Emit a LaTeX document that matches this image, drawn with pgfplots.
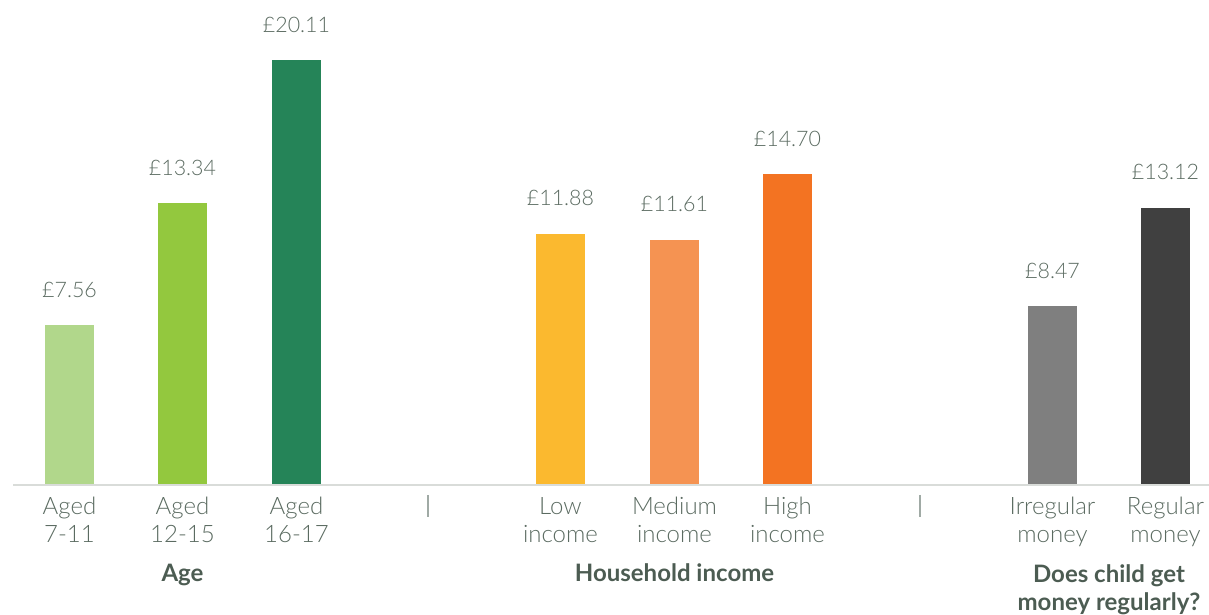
\documentclass[border=0pt]{standalone}
\usepackage{fontspec}
\setmainfont{Lato}[UprightFont=* Light, BoldFont=* Bold]
\usepackage{pgfplots}
\pgfplotsset{compat=1.18}
\definecolor{textgray}{RGB}{91,107,97}
\definecolor{boldgray}{RGB}{76,92,82}
\definecolor{axgray}{RGB}{217,220,217}
\definecolor{sepgray}{RGB}{160,170,165}
\definecolor{cA}{RGB}{177,215,139}
\definecolor{cB}{RGB}{147,200,62}
\definecolor{cC}{RGB}{37,132,88}
\definecolor{cD}{RGB}{251,185,47}
\definecolor{cE}{RGB}{245,147,82}
\definecolor{cF}{RGB}{243,115,34}
\definecolor{cG}{RGB}{127,127,127}
\definecolor{cH}{RGB}{64,64,64}
\begin{document}
\begin{tikzpicture}
\begin{axis}[
  width=604.5pt, height=307.5pt, scale only axis,
  xmin=0, xmax=1209, ymin=-6.152, ymax=22.953,
  axis x line=middle, axis y line=none,
  x axis line style={draw=none},
  ytick=\empty,
  xtick={69.5,182.5,296.5,560.5,674.5,787.5,1052.5,1165.5},
  xticklabels={{Aged\\7-11},{Aged\\12-15},{Aged\\16-17},{Low\\income},{Medium\\income},{High\\income},{Irregular\\money},{Regular\\money}},
  major tick length=0pt,
  xticklabel style={font=\fontsize{12}{14}\selectfont, text=textgray, align=center, anchor=north, inner sep=0pt, yshift=-6pt},
  clip=false,
  ybar, bar shift=0pt, bar width=49,
  nodes near coords={£\pgfmathprintnumber[fixed,fixed zerofill,precision=2,assume math mode=true]{\pgfplotspointmeta}},
  every node near coord/.append style={font=\fontsize{10.7}{13}\selectfont, text=textgray, anchor=base, yshift=14pt, inner sep=0pt},
]
\addplot[fill=cA, draw=none] coordinates {(69.5,7.56)};
\addplot[fill=cB, draw=none] coordinates {(182.5,13.34)};
\addplot[fill=cC, draw=none] coordinates {(296.5,20.11)};
\addplot[fill=cD, draw=none] coordinates {(560.5,11.88)};
\addplot[fill=cE, draw=none] coordinates {(674.5,11.61)};
\addplot[fill=cF, draw=none] coordinates {(787.5,14.70)};
\addplot[fill=cG, draw=none] coordinates {(1052.5,8.47)};
\addplot[fill=cH, draw=none] coordinates {(1165.5,13.12)};
\draw[axgray, line width=1pt] (axis cs:13,0) -- (axis cs:1209,0);
\draw[sepgray, line width=0.9pt] (axis cs:428,-0.473) -- (axis cs:428,-1.514);
\draw[sepgray, line width=0.9pt] (axis cs:920,-0.473) -- (axis cs:920,-1.514);
\node[anchor=base, font=\fontsize{12}{14}\selectfont\bfseries, text=boldgray] at (axis cs:182.5,-4.59) {Age};
\node[anchor=base, font=\fontsize{12}{14}\selectfont\bfseries, text=boldgray] at (axis cs:674.5,-4.59) {Household income};
\node[anchor=base, font=\fontsize{12}{14}\selectfont\bfseries, text=boldgray, align=center] at (axis cs:1109,-5.916) {Does child get\\money regularly?};
\coordinate (BL) at (rel axis cs:0,0);
\coordinate (TR) at (rel axis cs:1,1);
\end{axis}
\pgfresetboundingbox
\path (BL) rectangle (TR);
\end{tikzpicture}
\end{document}
